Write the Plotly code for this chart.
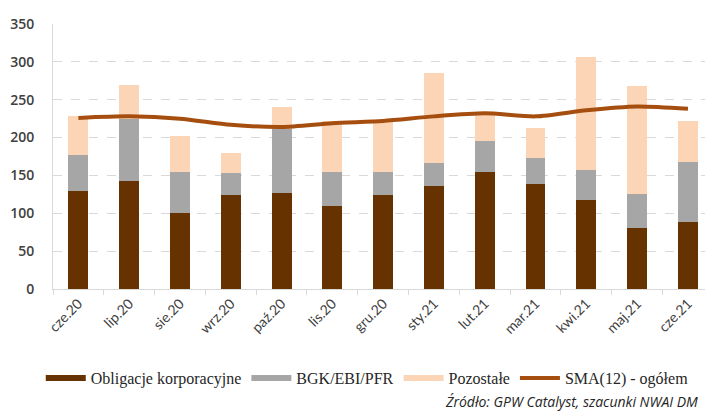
import plotly.graph_objects as go

categories = ["cze.20", "lip.20", "sie.20", "wrz.20", "paź.20", "lis.20", "gru.20",
              "sty.21", "lut.21", "mar.21", "kwi.21", "maj.21", "cze.21"]
obligacje = [130, 143, 101, 124, 127, 110, 124, 136, 155, 139, 118, 81, 89]
bgk = [47, 81, 54, 29, 84, 45, 31, 31, 41, 34, 39, 45, 79]
pozostale = [51, 46, 47, 27, 29, 67, 65, 118, 34, 40, 149, 142, 54]
sma12 = [226, 228, 225, 217, 214, 219, 222, 228, 232, 228, 236, 241, 238]
y_ticks = [0, 50, 100, 150, 200, 250, 300, 350]

C_BROWN = "#663300"
C_GREY = "#A6A6A6"
C_PEACH = "#FBD5B5"
C_LINE = "#A64E0F"

fig = go.Figure()
fig.add_trace(go.Bar(x=categories, y=obligacje, name="Obligacje korporacyjne",
                     marker=dict(color=C_BROWN, line=dict(width=0)), showlegend=False))
fig.add_trace(go.Bar(x=categories, y=bgk, name="BGK/EBI/PFR",
                     marker=dict(color=C_GREY, line=dict(width=0)), showlegend=False))
fig.add_trace(go.Bar(x=categories, y=pozostale, name="Pozostałe",
                     marker=dict(color=C_PEACH, line=dict(width=0)), showlegend=False))
fig.add_trace(go.Scatter(x=categories, y=sma12, name="SMA(12) - ogółem", mode="lines",
                         line=dict(color=C_LINE, width=4, shape="spline", smoothing=0.7),
                         showlegend=False))

# legend entries (wide swatches like the original)
for name, col in [("Obligacje korporacyjne", C_BROWN), ("BGK/EBI/PFR", C_GREY),
                  ("Pozostałe", C_PEACH), ("SMA(12) - ogółem", C_LINE)]:
    fig.add_trace(go.Scatter(x=[None], y=[None], mode="lines", name=name,
                             line=dict(color=col, width=6 if col != C_LINE else 4)))

fig.update_layout(
    width=705, height=412,
    margin=dict(l=53, r=0, t=24, b=123, autoexpand=False),
    paper_bgcolor="white", plot_bgcolor="white",
    barmode="stack", bargap=0.61,
    showlegend=True,
    legend=dict(orientation="h", x=0.482, xanchor="center", y=-0.336, yanchor="middle",
                traceorder="normal",
                font=dict(family="Liberation Serif", size=16, color="#262626"),
                itemwidth=40, tracegroupgap=0, bgcolor="rgba(0,0,0,0)"),
    xaxis=dict(range=[-0.5, 12.335], showgrid=False, showline=True, linecolor="#D9D9D9",
               linewidth=1, ticks="outside", tickson="boundaries", ticklen=5,
               tickcolor="#D9D9D9", tickangle=-45, automargin=False,
               tickfont=dict(family="Lato", size=14, color="#404040")),
    yaxis=dict(range=[0, 350], tickvals=y_ticks, showgrid=True, gridcolor="#D9D9D9",
               griddash="dash", gridwidth=1, showline=True, linecolor="#D9D9D9",
               zeroline=False, ticks="", ticklabelstandoff=15, automargin=False,
               tickfont=dict(family="Open Sans", size=14, color="#404040", weight=600)),
    annotations=[dict(text="Źródło: GPW Catalyst, szacunki NWAI DM", xref="paper", yref="paper",
                      x=(700 - 53) / 652, y=-0.425, xanchor="right", yanchor="middle",
                      showarrow=False,
                      font=dict(family="Open Sans", size=14, color="#262626", style="italic"))],
)

fig.write_html("out.html", config={"displayModeBar": False},
               post_script="document.body.style.margin='0px';")
